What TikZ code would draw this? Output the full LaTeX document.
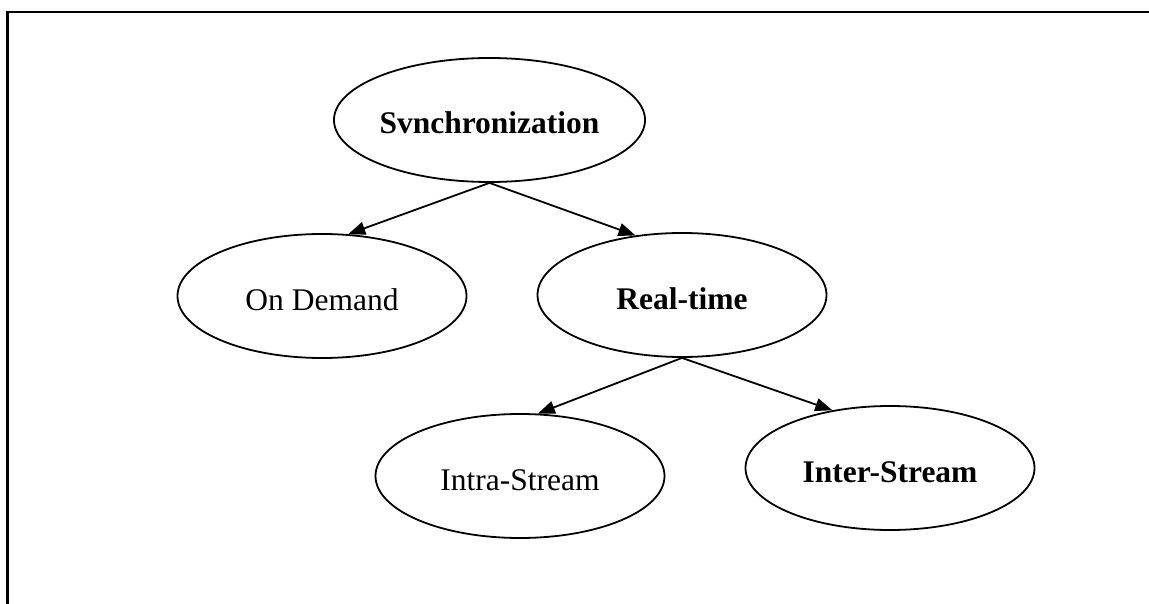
\documentclass[tikz,border=0pt]{standalone}
\usepackage{fontspec}
\setmainfont{Liberation Serif}
\usetikzlibrary{shapes.geometric,arrows.meta}
\begin{document}
\begin{tikzpicture}[x=1pt,y=-1pt,
  oval/.style={draw=black,line width=1.8pt,ellipse,inner sep=0pt,
    minimum width=289pt,minimum height=124pt,
    font=\fontsize{31.5}{31.5}\selectfont,text height=28pt,text depth=0pt},
  link/.style={line width=1.8pt,-{Triangle[length=17pt,width=13pt]}}]
\useasboundingbox (0,0) rectangle (1149,604);
% frame edges
\draw[line width=2.5pt] (7.5,604) -- (7.5,12) -- (1149,12);
% nodes
\node[oval] (sync)  at (489.5,120) {\textbf{Svnchronization}};
\node[oval] (demand) at (322,296) {On Demand};
\node[oval] (real)  at (682,295) {\textbf{Real-time}};
\node[oval] (intra) at (520,476) {Intra-Stream};
\node[oval] (inter) at (890,468) {\textbf{Inter-Stream}};
% connectors
\draw[link] (sync.south) -- (demand.67);
\draw[link] (sync.south) -- (real.128);
\draw[link] (real.south) -- (intra.74);
\draw[link] (real.south) -- (inter.135);
\end{tikzpicture}
\end{document}
